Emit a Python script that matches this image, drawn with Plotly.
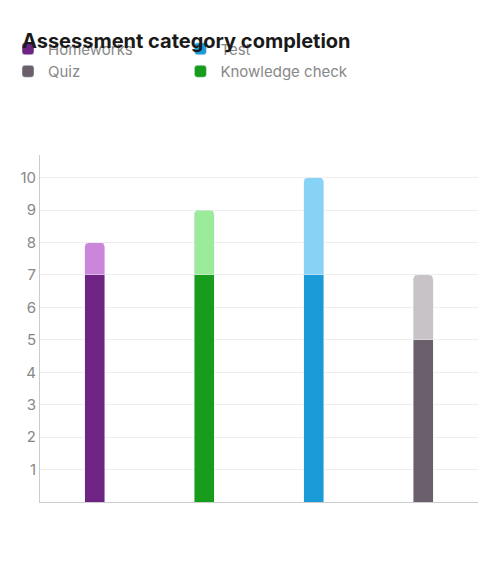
import plotly.graph_objects as go

categories = ["Homeworks", "Knowledge check", "Test", "Quiz"]
completed = [7, 7, 7, 5]
total = [8, 9, 10, 7]
dark_colors = ["#6e2482", "#189c1c", "#1a9bd7", "#6b5f6c"]
light_colors = ["#cb86db", "#9ceb9a", "#87d3f5", "#c8c3c7"]
legend_order = ["Homeworks", "Test", "Quiz", "Knowledge check"]

fig = go.Figure()
for name in legend_order:
    i = categories.index(name)
    fig.add_trace(go.Bar(x=[name], y=[completed[i]], name=name,
                         marker=dict(color=dark_colors[i], cornerradius=4),
                         width=0.18, legendgroup=name))
for i, name in enumerate(categories):
    fig.add_trace(go.Bar(x=[name], y=[total[i] - completed[i]], name=name,
                         marker=dict(color=light_colors[i], cornerradius=4),
                         width=0.18, showlegend=False, legendgroup=name))

fig.update_layout(
    barmode="stack",
    width=500, height=568,
    paper_bgcolor="white", plot_bgcolor="white",
    font=dict(family="Inter", size=15, color="#888888"),
    title=dict(text="<b>Assessment category completion</b>", x=0.028, y=0.955,
               xref="container", yref="container",
               xanchor="left", font=dict(size=20, color="#1a1a1a")),
    legend=dict(orientation="h", x=0.0, y=0.86, xref="container",
                yref="container", xanchor="left",
                font=dict(size=15, color="#888888"), itemwidth=30,
                traceorder="normal"),
    margin=dict(l=27, r=30, t=147, b=74),
    xaxis=dict(categoryorder="array", categoryarray=categories,
               showticklabels=False, showline=True, linecolor="#cccccc",
               linewidth=1, ticks=""),
    yaxis=dict(range=[0, 10.7], tickvals=list(range(1, 11)),
               showgrid=True, gridcolor="#eeeeee", showline=True,
               linecolor="#cccccc", zeroline=False, ticks=""),
)
fig.write_html("out.html")
